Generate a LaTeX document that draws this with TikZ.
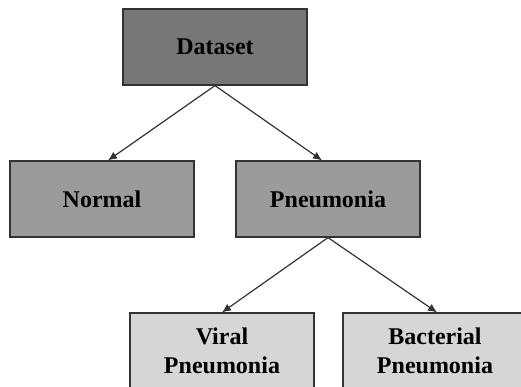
\documentclass[tikz,border=0pt]{standalone}
\usepackage{fontspec}
\setmainfont{Liberation Serif}
\usetikzlibrary{arrows,arrows.meta,positioning}
\definecolor{darkfill}{HTML}{777777}
\definecolor{midfill}{HTML}{9B9B9B}
\definecolor{lightfill}{HTML}{D6D6D6}
\definecolor{edgegray}{HTML}{333333}

\begin{document}
\begin{tikzpicture}[node distance=152pt, x=1pt, y=1pt]
  \tikzstyle{box} = [rectangle, minimum height=76pt, minimum width=184pt, text centered, align=center, draw=edgegray, line width=1.2pt, font=\fontsize{24}{29}\selectfont\bfseries, inner sep=0pt]
  \tikzstyle{top} = [box, fill=darkfill]
  \tikzstyle{mid} = [box, fill=midfill]
  \tikzstyle{leaf} = [box, fill=lightfill]

  \tikzstyle{arrow} = [-{Latex[length=9pt,width=8pt]}, draw=edgegray, line width=1.2pt]

  \useasboundingbox (-215,-340) rectangle (306,47);

  \node (dataset) [top] {Dataset};
  \node (normal) [mid, below of=dataset, xshift=-113pt] {Normal};
  \node (pneumonia) [mid, below of=dataset, xshift=113pt] {Pneumonia};
  \node (viral) [leaf, below of=pneumonia, xshift=-106pt] {Viral\\Pneumonia};
  \node (bacterial) [leaf, below of=pneumonia, xshift=107pt] {Bacterial\\Pneumonia};

  \draw [arrow] (dataset.south) -- ([xshift=6pt]normal.north);
  \draw [arrow] (dataset.south) -- ([xshift=-6pt]pneumonia.north);
  % second level
  \draw [arrow] (pneumonia.south) -- (viral.north);
  \draw [arrow] (pneumonia.south) -- ([xshift=2pt]bacterial.north);
\end{tikzpicture}
\end{document}
